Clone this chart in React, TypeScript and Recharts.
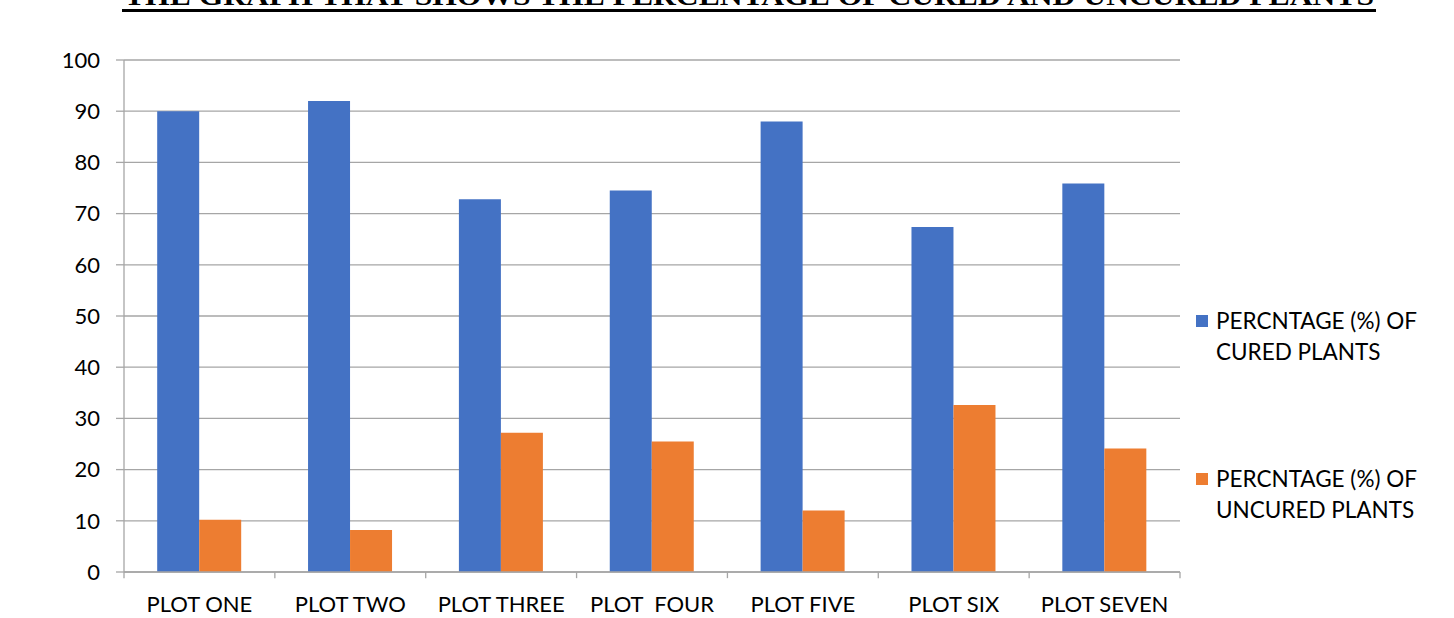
import React from 'react';
import { Bar, BarChart, CartesianGrid, Legend, ReferenceLine, XAxis, YAxis } from 'recharts';

const plots = ['PLOT ONE', 'PLOT TWO', 'PLOT THREE', 'PLOT\u00a0 FOUR', 'PLOT FIVE', 'PLOT SIX', 'PLOT SEVEN'];
const cured = [90, 92, 72.8, 74.5, 88, 67.4, 75.9];
const uncured = [10.2, 8.2, 27.2, 25.5, 12, 32.6, 24.1];
const yTicks = [0, 10, 20, 30, 40, 50, 60, 70, 80, 90, 100];
const curedName = 'PERCNTAGE (%) OF CURED PLANTS';
const uncuredName = 'PERCNTAGE (%) OF UNCURED PLANTS';
const title = 'THE GRAPH THAT SHOWS THE PERCENTAGE OF CURED AND UNCURED PLANTS';

const data = plots.map((plot, i) => ({ plot, cured: cured[i], uncured: uncured[i] }));

const FONT = 'Lato, "Open Sans", sans-serif';
const GRID = '#a6a6a6';

function XTick({ x, y, payload }: any) {
  return (
    <text x={x} y={y} dy={38} textAnchor="middle" fontFamily={FONT} fontSize={22} fill="#000" style={{ whiteSpace: 'pre' }}>
      {payload.value}
    </text>
  );
}

function LegendBox({ payload }: any) {
  return (
    <div style={{ fontFamily: FONT, fontSize: 22.5, color: '#000' }}>
      {(payload || []).map((p: any, i: number) => (
        <div key={p.value} style={{ display: 'flex', alignItems: 'flex-start', marginTop: i === 0 ? 0 : 96 }}>
          <div style={{ width: 12, height: 12, background: p.color, marginTop: 10, marginRight: 8, flex: 'none' }} />
          <div style={{ width: 226, lineHeight: '31px' }}>{p.value}</div>
        </div>
      ))}
    </div>
  );
}

export default function App() {
  return (
    <div style={{ position: 'absolute', left: 0, top: 0, width: 1454, height: 618, background: '#fff' }}>
      <svg width={1454} height={20} style={{ position: 'absolute', left: 0, top: 0 }}>
        <text
          x={749}
          y={5}
          textAnchor="middle"
          fontFamily='"Liberation Serif", serif'
          fontWeight="bold"
          fontSize={28}
          textLength={1250}
          lengthAdjust="spacingAndGlyphs"
          fill="#000"
        >
          {title}
        </text>
        <rect x={122} y={9} width={1254} height={3} fill="#000" />
      </svg>
      <BarChart
        width={1454}
        height={618}
        data={data}
        margin={{ top: 60, right: 274, bottom: 0, left: 0 }}
        barCategoryGap="22%"
        barGap={0}
      >
        <CartesianGrid vertical={false} stroke={GRID} strokeWidth={1.3} />
        <XAxis
          dataKey="plot"
          height={46}
          tick={<XTick />}
          tickLine={false}
          tickSize={0}
          axisLine={{ stroke: GRID, strokeWidth: 1.3 }}
          interval={0}
        />
        <YAxis
          width={124}
          domain={[0, 100]}
          ticks={yTicks}
          tickSize={8}
          tickMargin={16}
          tickLine={{ stroke: GRID, strokeWidth: 1.3 }}
          axisLine={{ stroke: GRID, strokeWidth: 1.3 }}
          tick={{ fontFamily: FONT, fontSize: 22, fill: '#000' }}
        />
        {plots.map((p) => (
          <ReferenceLine
            key={p}
            segment={[{ x: p, y: 0 }, { x: p, y: -1.2 }]}
            position="start"
            stroke={GRID}
            strokeWidth={1.3}
            ifOverflow="visible"
          />
        ))}
        <ReferenceLine
          segment={[{ x: plots[plots.length - 1], y: 0 }, { x: plots[plots.length - 1], y: -1.2 }]}
          position="end"
          stroke={GRID}
          strokeWidth={1.3}
          ifOverflow="visible"
        />
        <Legend
          layout="vertical"
          align="center"
          verticalAlign="middle"
          content={<LegendBox />}
          wrapperStyle={{ left: 1196, top: 305, width: 256 }}
        />
        <Bar dataKey="cured" name={curedName} fill="#4472c4" isAnimationActive={false} />
        <Bar dataKey="uncured" name={uncuredName} fill="#ed7d31" isAnimationActive={false} />
      </BarChart>
    </div>
  );
}
